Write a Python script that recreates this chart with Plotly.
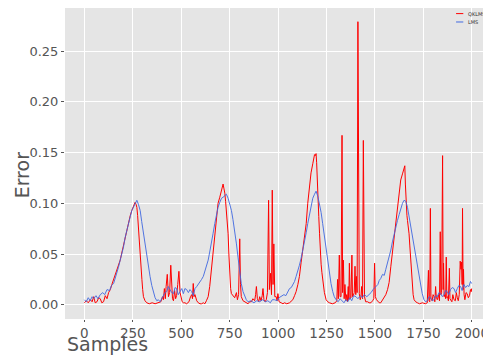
import plotly.graph_objects as go

series_names = ["QKLMS", "LMS"]

lms_x = [0, 10, 20, 30, 40, 48, 60, 70, 82, 95, 105, 117, 130, 140, 151, 160, 168, 176, 185, 193, 202, 210, 219, 228, 237, 245, 254, 262, 271, 279, 288, 296, 305, 313, 322, 330, 339, 348, 357, 365, 374, 382, 391, 400, 408, 416, 425, 433, 442, 451, 460, 468, 476, 485, 494, 503, 511, 519, 528, 537, 545, 554, 562, 571, 580, 588, 597, 605, 614, 622, 630, 639, 647, 656, 664, 673, 681, 690, 699, 708, 716, 725, 733, 742, 750, 759, 767, 776, 785, 793, 802, 810, 819, 828, 836, 845, 860, 875, 890, 905, 920, 935, 947, 960, 970, 982, 995, 1005, 1016, 1030, 1040, 1050, 1059, 1068, 1076, 1085, 1093, 1102, 1110, 1119, 1128, 1136, 1145, 1153, 1162, 1170, 1179, 1188, 1196, 1205, 1213, 1222, 1230, 1239, 1248, 1256, 1265, 1273, 1282, 1290, 1299, 1310, 1320, 1330, 1340, 1350, 1360, 1370, 1380, 1390, 1402, 1412, 1425, 1435, 1445, 1458, 1470, 1480, 1490, 1505, 1515, 1522, 1530, 1539, 1548, 1556, 1565, 1573, 1582, 1590, 1599, 1607, 1616, 1625, 1633, 1642, 1650, 1659, 1668, 1676, 1685, 1693, 1702, 1710, 1719, 1727, 1736, 1744, 1753, 1762, 1770, 1779, 1788, 1796, 1805, 1813, 1822, 1830, 1839, 1848, 1856, 1864, 1873, 1881, 1890, 1899, 1908, 1916, 1925, 1933, 1942, 1950, 1959, 1968, 1976, 1985, 1993, 1999]
lms_y = [0.005, 0.003, 0.007, 0.004, 0.008, 0.006, 0.009, 0.006, 0.010, 0.012, 0.010, 0.015, 0.014, 0.019, 0.021, 0.026, 0.031, 0.037, 0.044, 0.050, 0.057, 0.066, 0.074, 0.081, 0.087, 0.093, 0.097, 0.100, 0.103, 0.099, 0.093, 0.082, 0.070, 0.058, 0.047, 0.036, 0.028, 0.019, 0.011, 0.007, 0.004, 0.005, 0.003, 0.006, 0.008, 0.012, 0.013, 0.018, 0.015, 0.012, 0.011, 0.017, 0.016, 0.010, 0.013, 0.016, 0.011, 0.016, 0.015, 0.012, 0.015, 0.013, 0.009, 0.016, 0.018, 0.020, 0.022, 0.025, 0.028, 0.033, 0.038, 0.044, 0.052, 0.060, 0.070, 0.080, 0.088, 0.096, 0.101, 0.105, 0.106, 0.108, 0.109, 0.105, 0.100, 0.093, 0.084, 0.074, 0.060, 0.047, 0.033, 0.021, 0.013, 0.008, 0.005, 0.003, 0.004, 0.002, 0.004, 0.003, 0.005, 0.003, 0.004, 0.002, 0.005, 0.005, 0.004, 0.007, 0.008, 0.010, 0.009, 0.013, 0.016, 0.017, 0.020, 0.023, 0.028, 0.033, 0.039, 0.046, 0.054, 0.062, 0.071, 0.080, 0.089, 0.097, 0.105, 0.109, 0.112, 0.107, 0.100, 0.091, 0.080, 0.067, 0.054, 0.042, 0.031, 0.021, 0.013, 0.008, 0.005, 0.003, 0.006, 0.004, 0.002, 0.005, 0.003, 0.007, 0.004, 0.009, 0.008, 0.006, 0.009, 0.007, 0.010, 0.008, 0.010, 0.012, 0.015, 0.018, 0.020, 0.024, 0.026, 0.030, 0.029, 0.035, 0.041, 0.046, 0.054, 0.062, 0.070, 0.077, 0.083, 0.089, 0.095, 0.100, 0.103, 0.102, 0.096, 0.087, 0.077, 0.066, 0.057, 0.047, 0.038, 0.028, 0.018, 0.011, 0.005, 0.003, 0.004, 0.008, 0.007, 0.004, 0.005, 0.009, 0.008, 0.012, 0.011, 0.008, 0.010, 0.014, 0.013, 0.010, 0.015, 0.017, 0.016, 0.012, 0.016, 0.019, 0.018, 0.014, 0.020, 0.017, 0.019, 0.018, 0.023, 0.021]

qk_x = [0, 10, 20, 31, 40, 48, 56, 65, 74, 82, 90, 99, 108, 117, 125, 134, 142, 151, 160, 168, 176, 185, 193, 202, 210, 219, 228, 237, 245, 254, 262, 267, 271, 275, 279, 284, 288, 292, 297, 301, 305, 313, 322, 335, 350, 365, 380, 395, 403, 408, 413, 418, 422, 428, 434, 440, 446, 451, 455, 460, 466, 471, 476, 482, 488, 494, 500, 505, 511, 519, 528, 540, 548, 554, 558, 562, 566, 571, 580, 588, 597, 605, 614, 622, 630, 639, 647, 656, 664, 673, 681, 690, 699, 708, 716, 720, 725, 729, 733, 737, 742, 746, 750, 755, 759, 767, 776, 785, 790, 796, 802, 806, 810, 819, 828, 836, 845, 853, 862, 870, 879, 884, 888, 893, 900, 905, 912, 918, 922, 927, 933, 939, 945, 951, 955, 961, 966, 970, 974, 978, 983, 990, 995, 999, 1005, 1016, 1025, 1033, 1045, 1059, 1067, 1076, 1085, 1093, 1102, 1110, 1119, 1128, 1136, 1145, 1153, 1162, 1170, 1179, 1184, 1188, 1192, 1196, 1199, 1201, 1205, 1210, 1214, 1217, 1222, 1226, 1230, 1239, 1248, 1256, 1265, 1280, 1295, 1303, 1307, 1311, 1316, 1320, 1325, 1330, 1333, 1337, 1341, 1345, 1350, 1354, 1358, 1362, 1365, 1368, 1372, 1376, 1381, 1384, 1388, 1393, 1397, 1401, 1404, 1408, 1412, 1416, 1419, 1424, 1428, 1431, 1436, 1440, 1443, 1446, 1452, 1462, 1470, 1479, 1488, 1494, 1498, 1502, 1508, 1515, 1522, 1530, 1539, 1547, 1556, 1565, 1573, 1582, 1590, 1599, 1607, 1616, 1625, 1633, 1642, 1648, 1654, 1657, 1661, 1665, 1668, 1672, 1676, 1680, 1685, 1689, 1693, 1697, 1702, 1710, 1719, 1730, 1745, 1760, 1770, 1776, 1779, 1783, 1786, 1789, 1795, 1800, 1805, 1809, 1813, 1817, 1822, 1828, 1833, 1837, 1840, 1844, 1849, 1852, 1854, 1857, 1861, 1865, 1868, 1871, 1875, 1879, 1884, 1887, 1890, 1897, 1902, 1908, 1915, 1920, 1925, 1930, 1935, 1938, 1940, 1944, 1947, 1950, 1952, 1955, 1957, 1960, 1964, 1970, 1976, 1982, 1988, 1993, 1997, 1999]
qk_y = [0.002, 0.004, 0.002, 0.005, 0.003, 0.008, 0.002, 0.003, 0.007, 0.006, 0.002, 0.003, 0.009, 0.006, 0.012, 0.015, 0.020, 0.025, 0.029, 0.034, 0.039, 0.044, 0.051, 0.059, 0.066, 0.074, 0.081, 0.088, 0.093, 0.098, 0.101, 0.099, 0.096, 0.088, 0.074, 0.060, 0.047, 0.036, 0.025, 0.015, 0.008, 0.004, 0.002, 0.001, 0.002, 0.001, 0.002, 0.003, 0.008, 0.005, 0.016, 0.006, 0.018, 0.030, 0.008, 0.012, 0.039, 0.010, 0.006, 0.004, 0.014, 0.006, 0.009, 0.020, 0.033, 0.012, 0.006, 0.003, 0.002, 0.002, 0.001, 0.003, 0.008, 0.010, 0.006, 0.021, 0.008, 0.010, 0.004, 0.002, 0.001, 0.001, 0.002, 0.001, 0.004, 0.008, 0.018, 0.034, 0.050, 0.067, 0.084, 0.100, 0.106, 0.113, 0.119, 0.115, 0.110, 0.102, 0.093, 0.082, 0.070, 0.050, 0.028, 0.016, 0.011, 0.009, 0.007, 0.012, 0.005, 0.010, 0.065, 0.020, 0.008, 0.004, 0.003, 0.002, 0.001, 0.003, 0.003, 0.006, 0.004, 0.010, 0.018, 0.006, 0.003, 0.008, 0.004, 0.009, 0.016, 0.005, 0.003, 0.005, 0.012, 0.103, 0.015, 0.031, 0.010, 0.113, 0.020, 0.060, 0.008, 0.008, 0.004, 0.011, 0.003, 0.002, 0.001, 0.002, 0.001, 0.002, 0.003, 0.005, 0.009, 0.013, 0.020, 0.028, 0.042, 0.057, 0.068, 0.080, 0.100, 0.120, 0.130, 0.139, 0.144, 0.148, 0.147, 0.149, 0.140, 0.126, 0.105, 0.087, 0.070, 0.054, 0.040, 0.032, 0.025, 0.012, 0.005, 0.003, 0.002, 0.001, 0.002, 0.004, 0.025, 0.006, 0.049, 0.008, 0.008, 0.167, 0.012, 0.044, 0.006, 0.020, 0.004, 0.010, 0.003, 0.018, 0.005, 0.041, 0.006, 0.007, 0.049, 0.008, 0.009, 0.012, 0.038, 0.010, 0.028, 0.012, 0.279, 0.015, 0.011, 0.005, 0.008, 0.018, 0.006, 0.162, 0.010, 0.008, 0.003, 0.003, 0.002, 0.002, 0.004, 0.006, 0.041, 0.008, 0.005, 0.003, 0.002, 0.002, 0.005, 0.008, 0.010, 0.015, 0.022, 0.038, 0.052, 0.067, 0.084, 0.100, 0.113, 0.123, 0.129, 0.133, 0.137, 0.119, 0.093, 0.088, 0.083, 0.077, 0.070, 0.058, 0.044, 0.030, 0.018, 0.010, 0.005, 0.003, 0.002, 0.001, 0.002, 0.001, 0.002, 0.034, 0.004, 0.003, 0.095, 0.006, 0.004, 0.010, 0.008, 0.003, 0.018, 0.006, 0.005, 0.010, 0.004, 0.072, 0.010, 0.012, 0.147, 0.015, 0.041, 0.008, 0.010, 0.006, 0.047, 0.007, 0.008, 0.004, 0.036, 0.006, 0.005, 0.003, 0.010, 0.005, 0.004, 0.012, 0.007, 0.004, 0.010, 0.030, 0.043, 0.035, 0.042, 0.020, 0.095, 0.015, 0.035, 0.010, 0.005, 0.012, 0.011, 0.007, 0.009, 0.015, 0.013, 0.016]

x_ticks = [0, 250, 500, 750, 1000, 1250, 1500, 1750, 2000]
y_ticks = [0.00, 0.05, 0.10, 0.15, 0.20, 0.25]
y_tick_labels = ["0.00", "0.05", "0.10", "0.15", "0.20", "0.25"]
x_title = "Samples"
y_title = "Error"

RED = "#ff0000"
BLUE = "#4169e1"
FONT = "DejaVu Sans"
GREY = "#555555"

fig = go.Figure()
fig.add_trace(go.Scatter(x=qk_x, y=qk_y, mode="lines", name=series_names[0],
                         line=dict(color=RED, width=1), showlegend=False))
fig.add_trace(go.Scatter(x=lms_x, y=lms_y, mode="lines", name=series_names[1],
                         line=dict(color=BLUE, width=1), opacity=0.9, showlegend=False))

# compact legend (top right), drawn with shapes and text
leg = [(series_names[0], RED, 0.982), (series_names[1], BLUE, 0.955)]
for name, col, yy in leg:
    fig.add_shape(type="line", xref="paper", yref="paper", x0=0.918, x1=0.935, y0=yy, y1=yy,
                  line=dict(color=col, width=1))
    fig.add_annotation(text=name, xref="paper", yref="paper", x=0.942, y=yy, xanchor="left",
                       yanchor="middle", showarrow=False, font=dict(family=FONT, size=5, color="#333333"))

fig.add_annotation(text=x_title, xref="paper", yref="paper", x=0.0, y=-0.079, xanchor="left",
                   yanchor="middle", showarrow=False, font=dict(family=FONT, size=19, color=GREY))
fig.add_annotation(text=y_title, xref="paper", yref="paper", x=-0.101, y=0.465, textangle=-90,
                   xanchor="center", yanchor="middle", showarrow=False,
                   font=dict(family=FONT, size=19, color=GREY))

# the page body has an 8px default margin, so the figure is sized to fit the window
fig.update_layout(
    width=483, height=350,
    margin=dict(l=57, r=0, t=0, b=39, autoexpand=False),
    paper_bgcolor="white", plot_bgcolor="#E5E5E5",
    font=dict(family=FONT, color=GREY),
)
fig.update_xaxes(range=[-99.95, 2098.95], tickvals=x_ticks, showgrid=True, gridcolor="white",
                 gridwidth=1, zeroline=False, ticks="outside", ticklen=2, tickcolor=GREY,
                 tickfont=dict(family=FONT, size=13.5, color=GREY), showline=False, automargin=False)
fig.update_yaxes(range=[-0.014, 0.2925], tickvals=y_ticks, ticktext=y_tick_labels, showgrid=True,
                 gridcolor="white", gridwidth=1, zeroline=False, ticks="outside", ticklen=3,
                 tickcolor=GREY, tickfont=dict(family=FONT, size=13, color=GREY), showline=False,
                 automargin=False)

fig.write_html("out.html")
